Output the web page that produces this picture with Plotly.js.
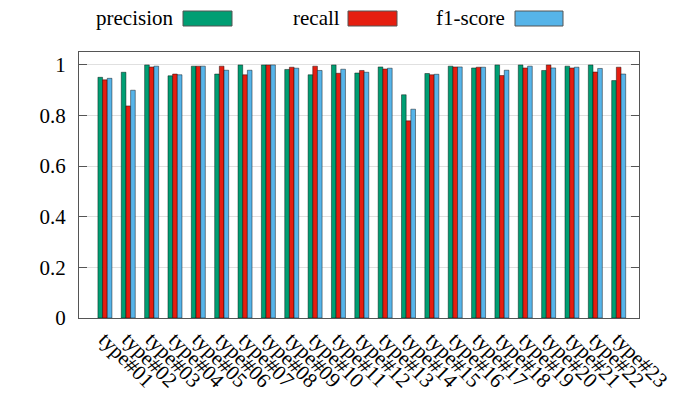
<!DOCTYPE html>
<html>
<head>
<meta charset="utf-8">
<script src="https://cdn.plot.ly/plotly-3.0.1.min.js"></script>
<style>
html,body{margin:0;padding:0;background:#fff;}
#chart{width:676px;height:407px;}
</style>
</head>
<body>
<div id="chart"></div>
<script>
const categories = ["type#01","type#02","type#03","type#04","type#05","type#06","type#07","type#08","type#09","type#10","type#11","type#12","type#13","type#14","type#15","type#16","type#17","type#18","type#19","type#20","type#21","type#22","type#23"];
const precision = [0.951,0.971,1.000,0.957,0.995,0.964,1.000,1.000,0.982,0.961,1.000,0.968,0.992,0.882,0.966,0.995,0.988,1.000,1.000,0.978,0.995,1.000,0.938];
const recall    = [0.941,0.838,0.992,0.964,0.995,0.995,0.961,1.000,0.991,0.995,0.967,0.978,0.984,0.779,0.961,0.992,0.991,0.958,0.988,1.000,0.988,0.972,0.991];
const f1score   = [0.947,0.900,0.995,0.961,0.995,0.979,0.979,1.000,0.987,0.978,0.983,0.971,0.987,0.825,0.963,0.992,0.991,0.979,0.995,0.988,0.991,0.986,0.964];
const seriesNames = ["precision","recall","f1-score"];
const colors = ["#009e73","#e51e10","#56b4e9"];
const yTicks = [0,0.2,0.4,0.6,0.8,1];
const yTickLabels = ["0","0.2","0.4","0.6","0.8","1"];

const serif = "Liberation Serif";
const seriesData = [precision, recall, f1score];
const traces = seriesData.map((vals, k) => ({
  type: "bar",
  name: seriesNames[k],
  x: categories,
  y: vals,
  marker: {color: colors[k], line: {color: "rgba(0,0,0,0.55)", width: 0.8}},
  hoverinfo: "x+y+name"
}));

// custom legend: label text followed by its swatch
const legendText = [{x: 94, x0: 183, x1: 232}, {x: 291, x0: 348, x1: 397}, {x: 434, x0: 515, x1: 563}];
const W = 676, H = 407;
const annotations = [];
const shapes = [];
seriesNames.forEach((n, k) => {
  annotations.push({
    xref: "paper", yref: "paper",
    x: (legendText[k].x - 79) / (W - 79 - 37),
    y: 1 + (52 - 18) / (H - 52 - 89),
    xanchor: "left", yanchor: "middle",
    text: n, showarrow: false,
    font: {family: serif, size: 21, color: "#000"}
  });
  shapes.push({
    type: "rect", xref: "paper", yref: "paper",
    x0: (legendText[k].x0 - 79) / (W - 79 - 37),
    x1: (legendText[k].x1 - 79) / (W - 79 - 37),
    y0: 1 + (52 - 26) / (H - 52 - 89),
    y1: 1 + (52 - 11) / (H - 52 - 89),
    fillcolor: colors[k],
    line: {color: "#555", width: 1}
  });
});

const layout = {
  width: W, height: H,
  margin: {l: 79, r: 37, t: 52, b: 89},
  paper_bgcolor: "#fff", plot_bgcolor: "#fff",
  showlegend: false,
  barmode: "group",
  bargap: 0.4, bargroupgap: 0,
  font: {family: serif, color: "#000"},
  xaxis: {
    type: "category",
    range: [-1.11, 22.87],
    tickmode: "array",
    tickvals: categories,
    ticktext: categories,
    tickangle: 45,
    tickfont: {family: serif, size: 21, color: "#000"},
    showgrid: false,
    showline: true, linecolor: "#555", linewidth: 1, mirror: true,
    ticks: "", zeroline: false
  },
  yaxis: {
    range: [0, 1.051],
    tickvals: yTicks, ticktext: yTickLabels,
    tickfont: {family: serif, size: 21, color: "#000"},
    ticklabelstandoff: 8,
    showgrid: true, gridcolor: "#e0e0e0", gridwidth: 1,
    showline: true, linecolor: "#555", linewidth: 1, mirror: "ticks",
    ticks: "inside", ticklen: 8, tickcolor: "#555",
    zeroline: false
  },
  annotations: annotations,
  shapes: shapes
};

Plotly.newPlot("chart", traces, layout, {displayModeBar: false, staticPlot: true});
</script>
</body>
</html>
